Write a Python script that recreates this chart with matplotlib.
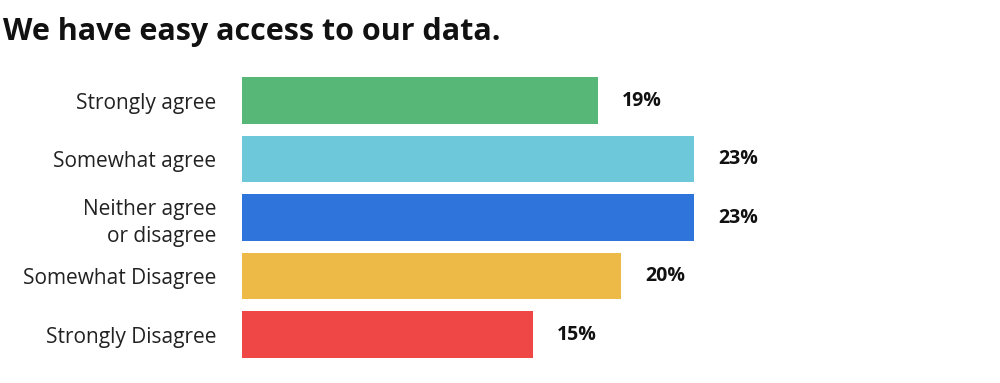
import matplotlib.pyplot as plt

# survey answers, top to bottom
categories = ['Strongly agree', 'Somewhat agree', 'Neither agree\nor disagree',
              'Somewhat Disagree', 'Strongly Disagree']
# bar lengths as drawn (percent)
values = [18.35, 23.3, 23.3, 19.55, 15.0]
# printed labels
pct_labels = ['19%', '23%', '23%', '20%', '15%']
colors = ['#57B777', '#6DC9D9', '#2F74DB', '#EDBA48', '#EF4646']

plt.rcParams['font.family'] = ['Open Sans', 'DejaVu Sans']

fig = plt.figure(figsize=(10, 3.83), dpi=100)
ax = fig.add_axes([0.242, 0, 0.758, 1])

ypos = list(range(len(categories)))
ax.barh(ypos, values, height=0.8, color=colors)

for y, v, lab in zip(ypos, values, pct_labels):
    ax.annotate(lab, (v, y), xytext=(24, 0), textcoords='offset pixels',
                ha='left', va='center', fontsize=14, fontweight='bold', color='#111111')

ax.set_xlim(0, 758 / 19.4)
ax.set_ylim(4.829, -1.718)
ax.set_yticks(ypos)
ax.set_yticklabels(categories, fontsize=15, color='#222222', linespacing=1.35)
ax.tick_params(axis='y', length=0, pad=18.5)
ax.set_xticks([])
for s in ax.spines.values():
    s.set_visible(False)

fig.text(0.003, 1 - 32 / 383, 'We have easy access to our data.', fontsize=22,
         fontweight='bold', color='#111111', ha='left', va='center')

fig.savefig('out.png', dpi=100, facecolor='white')
